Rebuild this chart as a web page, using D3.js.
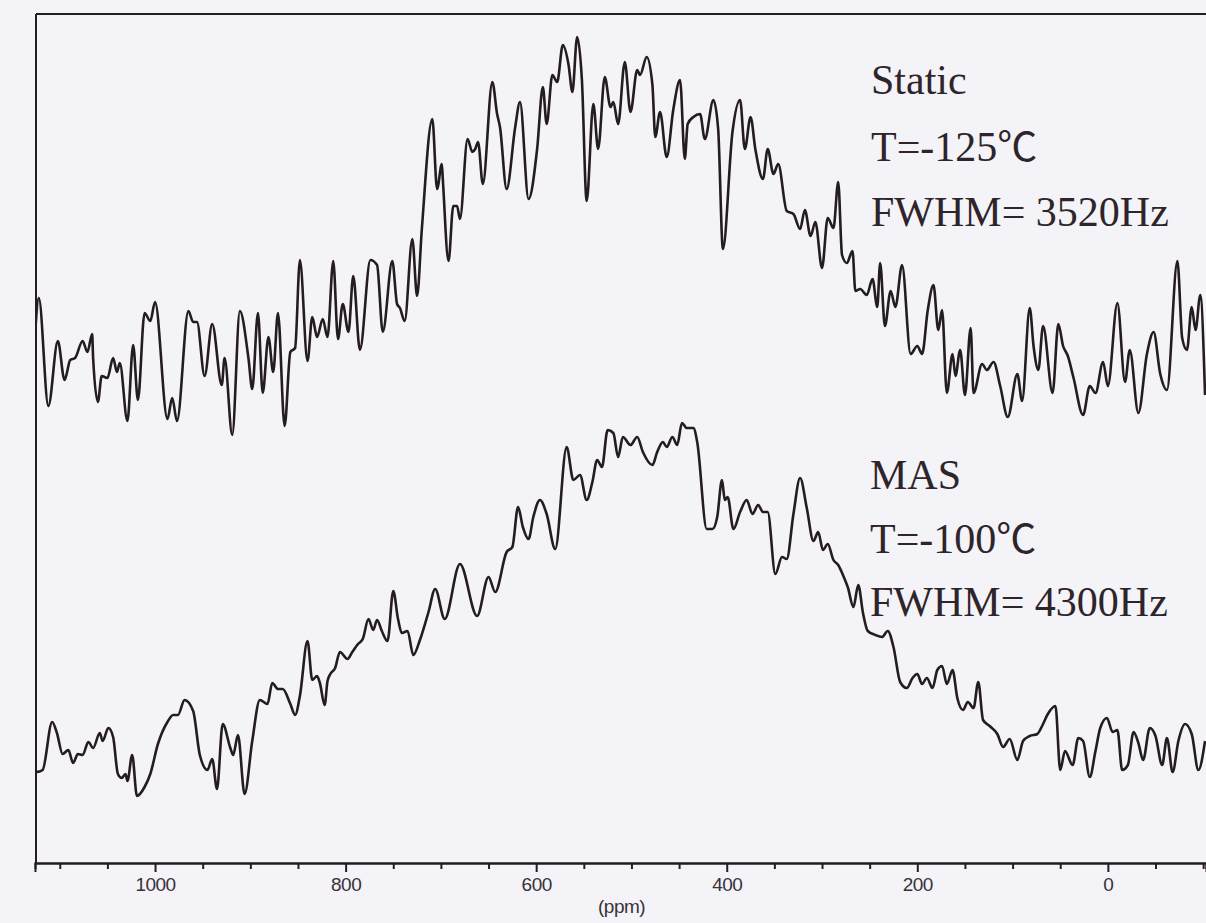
<!DOCTYPE html>
<html><head><meta charset="utf-8">
<script src="https://cdn.jsdelivr.net/npm/d3@7/dist/d3.min.js"></script>
<style>html,body{margin:0;padding:0;background:#f3f3f8;}svg{display:block;}</style>
</head><body>
<script>
// chemical shift (ppm) and intensity (a.u.)
const staticPpm = [1126,1122,1112,1102,1095,1089,1084,1076,1071,1066,1065,1060,1056,1050,1044,1040,1037,1029,1023,1018,1011,1005,1000,987,982,977,965,960,956,948,940,930,927,919,911,902,898,892,887,881,876,871,864,858,853,848,840,835,830,824,819,813,808,803,797,792,785,774,767,761,751,746,743,738,730,725,720,709,704,699,698,692,687,683,680,672,667,664,661,656,646,641,638,631,622,617,608,599,593,589,583,578,572,566,562,557,552,547,540,535,528,522,519,514,507,501,494,491,484,478,475,470,463,456,449,444,441,435,428,423,414,409,404,394,386,381,375,370,362,357,351,346,337,330,323,318,312,307,300,294,288,283,279,274,268,265,260,253,247,242,239,234,228,223,216,207,200,195,189,183,178,174,169,163,160,155,150,144,141,132,127,120,113,105,95,90,82,78,73,68,58,52,47,42,36,26,19,13,5,0,-10,-18,-23,-32,-41,-48,-55,-62,-73,-78,-83,-88,-92,-97,-102];
const staticInt = [528,565,457,522,483,503,505,522,511,529,505,461,487,485,505,491,500,442,518,463,550,542,561,444,465,442,552,541,541,487,539,478,505,428,552,505,474,550,470,526,491,550,437,511,515,603,502,546,526,544,526,602,524,559,531,587,513,603,598,531,602,559,555,542,624,567,634,744,674,699,684,602,657,657,644,724,711,714,721,679,781,749,736,674,736,761,664,714,776,739,788,781,818,798,771,826,783,662,759,714,786,756,761,739,801,751,793,788,806,778,726,751,706,754,783,704,739,746,749,724,763,734,614,731,763,714,746,714,684,714,689,699,652,649,634,653,627,641,595,645,635,681,608,600,612,572,574,568,584,556,600,537,572,556,598,509,517,509,553,578,533,553,470,509,487,513,468,535,470,499,493,501,477,446,489,462,555,517,493,537,470,539,517,507,485,448,477,470,501,477,560,481,513,450,509,531,489,473,602,525,513,556,533,568,468];

const masPpm = [1126,1124,1118,1108,1103,1097,1091,1086,1081,1076,1070,1065,1058,1055,1049,1044,1039,1035,1031,1029,1024,1019,1011,1005,997,987,981,976,969,960,953,945,940,935,929,921,918,913,906,898,890,882,877,871,866,858,853,848,840,835,830,827,822,819,816,811,806,798,793,787,782,776,771,767,762,756,750,745,741,735,729,722,713,706,696,680,662,650,643,631,625,619,614,608,603,596,589,580,568,561,554,547,541,536,531,525,519,514,509,501,494,488,478,473,467,463,457,452,447,442,435,431,421,415,410,405,402,399,393,386,379,373,367,362,357,349,342,337,330,323,316,309,304,299,294,288,283,278,273,267,262,257,252,244,237,231,225,218,211,205,200,195,190,184,179,174,169,163,158,152,147,141,136,131,124,116,110,103,95,89,82,74,69,63,55,50,45,37,31,26,19,13,8,1,-5,-10,-15,-21,-27,-32,-37,-44,-50,-57,-62,-68,-74,-81,-88,-95,-102];
const masInt = [95,91,93,141,130,109,113,100,109,108,121,115,130,122,135,126,89,85,89,82,108,67,76,89,119,141,148,148,163,152,108,93,104,74,139,115,108,128,69,122,163,159,180,174,174,159,148,167,222,183,187,180,158,182,189,195,211,204,211,219,224,244,233,243,232,222,272,244,230,232,208,223,251,274,244,299,247,286,271,311,316,356,336,324,346,363,349,314,416,383,388,363,381,403,396,433,430,406,426,418,426,411,398,411,421,416,426,418,440,435,435,421,334,334,346,383,363,366,334,351,363,349,358,351,351,289,306,304,349,385,355,322,331,313,319,303,298,288,276,256,278,250,232,228,226,232,216,181,175,185,189,179,185,175,193,197,179,193,165,153,161,155,181,143,137,129,116,124,103,122,127,129,137,149,157,93,112,98,125,122,86,112,135,145,131,133,93,98,131,120,103,135,127,98,125,91,122,139,129,93,122];

const majorTicks = [1000, 800, 600, 400, 200, 0];
const minorTicks = [1100, 1050, 950, 900, 850, 750, 700, 650, 550, 500, 450, 350, 300, 250, 150, 100, 50, -50, -100];
const xUnit = "(ppm)";
const staticLabels = ["Static", "T=-125\u2103", "FWHM= 3520Hz"];
const masLabels = ["MAS", "T=-100\u2103", "FWHM= 4300Hz"];

(function () {
const W = 1206, H = 923;
const pL = 36, pR = 1206, pT = 14, pB = 863;
const ink = "#251b22";

const svg = d3.select("body").append("svg").attr("width", W).attr("height", H);
svg.append("rect").attr("width", W).attr("height", H).attr("fill", "#f3f3f8");

const x = d3.scaleLinear().domain([1126, -103]).range([35, 1206]);
const y = d3.scaleLinear().domain([0, 849]).range([pB, pT]);

// frame
svg.append("line").attr("x1", pL).attr("x2", pR + 2).attr("y1", pT).attr("y2", pT)
  .attr("stroke", ink).attr("stroke-width", 2);
svg.append("line").attr("x1", pL).attr("x2", pL).attr("y1", pT).attr("y2", pB)
  .attr("stroke", ink).attr("stroke-width", 2);

// bottom axis
const gMinor = svg.append("g").attr("transform", `translate(0,${pB})`)
  .call(d3.axisBottom(x).tickValues(minorTicks).tickSize(6).tickFormat(""));
const gMajor = svg.append("g").attr("transform", `translate(0,${pB})`)
  .call(d3.axisBottom(x).tickValues(majorTicks).tickSize(9).tickPadding(6).tickFormat(d3.format("d")));
[gMinor, gMajor].forEach(g => {
  g.select(".domain").attr("stroke", ink).attr("stroke-width", 2);
  g.selectAll(".tick line").attr("stroke", ink).attr("stroke-width", 2);
});
gMajor.selectAll(".tick text").attr("fill", "#3a3038")
  .style("font-family", "'Liberation Sans', Arial, sans-serif").style("font-size", "19px")
  .style("letter-spacing", "-0.5px");

svg.append("text").attr("x", 598).attr("y", 913).text(xUnit)
  .attr("fill", "#3a3038").style("font-family", "'Liberation Sans', Arial, sans-serif")
  .style("font-size", "19px").style("letter-spacing", "-0.5px");

// traces
const line = d3.line().x(d => x(d[0])).y(d => y(d[1])).curve(d3.curveMonotoneX);
svg.append("clipPath").attr("id", "clip").append("rect")
  .attr("x", pL).attr("y", pT).attr("width", pR - pL).attr("height", pB - pT);
const gData = svg.append("g").attr("clip-path", "url(#clip)");
gData.append("path").datum(d3.zip(staticPpm, staticInt)).attr("d", line)
  .attr("fill", "none").attr("stroke", ink).attr("stroke-width", 2.6).attr("stroke-linejoin", "round");
gData.append("path").datum(d3.zip(masPpm, masInt)).attr("d", line)
  .attr("fill", "none").attr("stroke", ink).attr("stroke-width", 2.6).attr("stroke-linejoin", "round");

// annotations
function block(lines, x0, baselines) {
  lines.forEach((t, i) => {
    const txt = svg.append("text").attr("x", x0).attr("y", baselines[i])
      .attr("fill", "#2e2429")
      .style("font-family", "'Liberation Serif', 'Times New Roman', serif")
      .style("font-size", "42px");
    const k = t.indexOf("\u2103");
    if (k < 0) { txt.text(t); return; }
    txt.append("tspan").text(t.slice(0, k));
    txt.append("tspan").text("\u2103")
      .style("font-family", "'Noto Sans CJK SC', 'Noto Sans CJK JP', serif")
      .style("font-size", "40px");
  });
}
block(staticLabels, 871, [94, 161, 226]);
block(masLabels, 870, [489, 553, 616]);
})();
</script>
</body></html>
